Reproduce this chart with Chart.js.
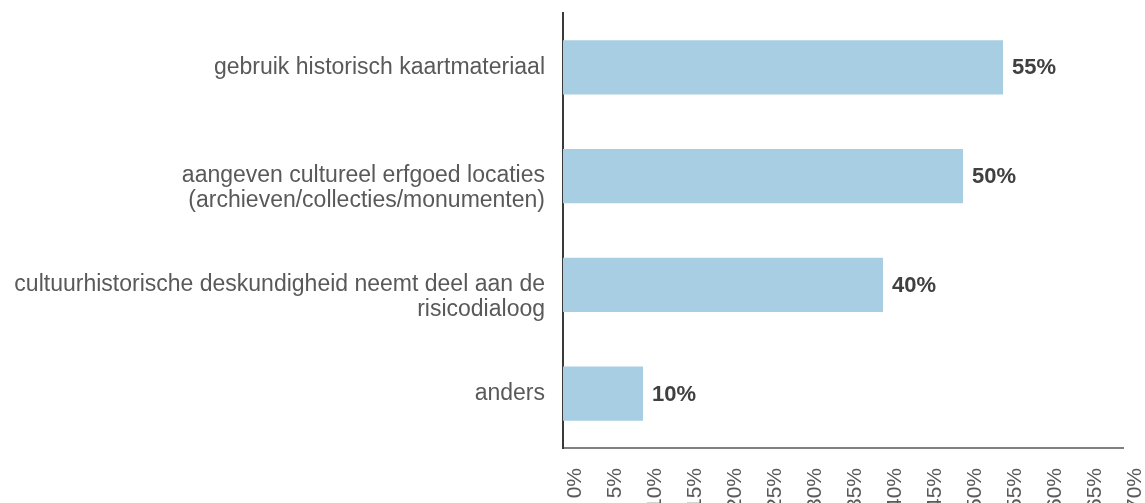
<!DOCTYPE html>
<html>
<head>
<meta charset="utf-8">
<script src="https://cdn.jsdelivr.net/npm/chart.js@4/dist/chart.umd.min.js"></script>
<style>
  html, body { margin: 0; padding: 0; background: #fff; }
  #wrap { width: 1145px; height: 503px; }
</style>
</head>
<body>
<div id="wrap"><canvas id="myChart"></canvas></div>
<script>
//------------------data---------------------
const categories = [
  'gebruik historisch kaartmateriaal',
  ['aangeven cultureel erfgoed locaties', '(archieven/collecties/monumenten)'],
  ['cultuurhistorische deskundigheid neemt deel aan de', 'risicodialoog'],
  'anders'
];
const percentages = [55, 50, 40, 10];
const tickMin = 0;
const tickMax = 70;
const tickStep = 5;

//------------------value labels next to bars---------------------
const barValueLabels = {
  id: 'barValueLabels',
  afterDatasetsDraw(chart) {
    const ctx = chart.ctx;
    const meta = chart.getDatasetMeta(0);
    ctx.save();
    ctx.font = 'bold 22px "Liberation Sans", Arial, sans-serif';
    ctx.fillStyle = '#404040';
    ctx.textAlign = 'left';
    ctx.textBaseline = 'middle';
    meta.data.forEach(function (bar, i) {
      ctx.fillText(percentages[i] + '%', bar.x + 9, bar.y + 1);
    });
    ctx.restore();
  }
};

//------------------chart---------------------
function createChart() {
  let myChart = document.getElementById('myChart').getContext('2d');

  new Chart(myChart, {
    type: 'bar',
    data: {
      labels: categories,
      datasets: [{
        data: percentages,
        backgroundColor: '#a7cee2',
        borderWidth: 0,
        barPercentage: 0.5,
        categoryPercentage: 1
      }]
    },
    options: {
      indexAxis: 'y',
      responsive: true,
      maintainAspectRatio: false,
      animation: false,
      layout: { padding: { top: 13, right: 22, left: 0, bottom: 0 } },
      plugins: {
        legend: { display: false },
        tooltip: { enabled: false }
      },
      scales: {
        x: {
          min: tickMin,
          max: tickMax,
          grid: { display: false },
          border: { display: true, color: '#808080', width: 2 },
          ticks: {
            stepSize: tickStep,
            minRotation: 90,
            maxRotation: 90,
            padding: 12,
            labelOffset: 12,
            color: '#595959',
            font: { family: '"Liberation Sans", Arial, sans-serif', size: 21 },
            callback: function (value) { return value + '%'; }
          },
          afterFit: function (scale) {
            scale.height = 55;
            scale.paddingLeft = 0;
            scale.paddingRight = 0;
          }
        },
        y: {
          grid: { display: false },
          border: { display: true, color: '#3a3a3a', width: 2 },
          ticks: {
            padding: 10,
            color: '#595959',
            font: { family: '"Liberation Sans", Arial, sans-serif', size: 23, lineHeight: 1.08 },
            // first line of a wrapped label sits level with the bar, like the original
            callback: function (value) {
              const label = this.getLabelForValue(value);
              return Array.isArray(label) ? [''].concat(label) : label;
            }
          },
          afterFit: function (scale) {
            scale.width = 563;
            scale.paddingTop = 0;
            scale.paddingBottom = 0;
          }
        }
      }
    },
    plugins: [barValueLabels]
  });
}

createChart();
</script>
</body>
</html>
